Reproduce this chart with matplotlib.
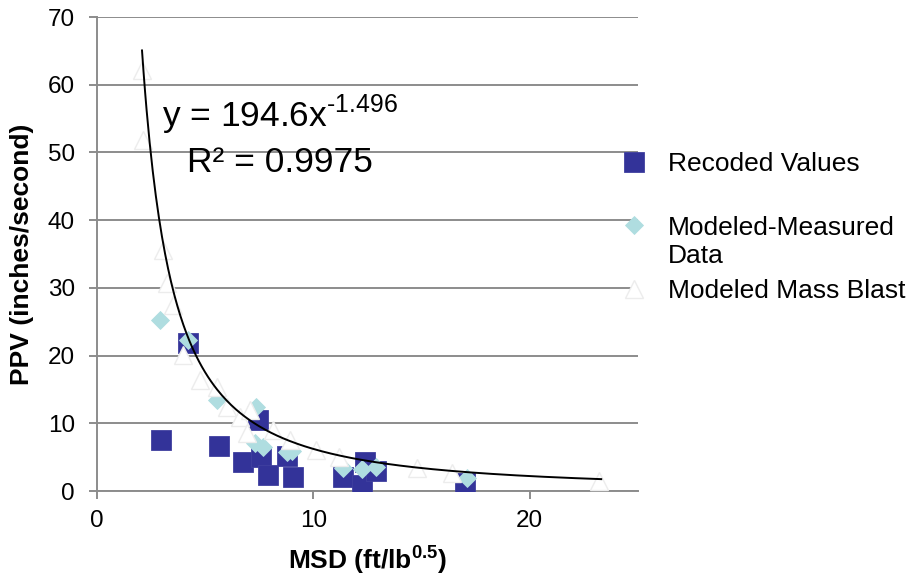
import numpy as np
import matplotlib
matplotlib.use('Agg')
import matplotlib.pyplot as plt

plt.rcParams['font.family'] = ['Liberation Sans', 'DejaVu Sans']
plt.rcParams['mathtext.fontset'] = 'custom'
plt.rcParams['mathtext.rm'] = 'Liberation Sans'

# Recoded Values (squares)
rec_x = [2.96, 4.2, 5.64, 6.74, 7.6, 7.9, 8.8, 9.05, 7.45, 11.36, 12.4, 12.24, 12.9, 17.0]
rec_y = [7.5, 21.9, 6.6, 4.3, 5.0, 2.4, 5.2, 2.1, 10.5, 2.1, 4.3, 0.9, 2.9, 1.2]

# Modeled-Measured Data (diamonds)
mm_x = [2.91, 4.2, 5.54, 7.34, 7.3, 7.67, 8.77, 9.0, 11.36, 12.24, 12.9, 17.1]
mm_y = [25.3, 22.3, 13.4, 12.4, 7.1, 6.5, 5.8, 5.9, 3.4, 3.2, 3.5, 1.9]

# Modeled Mass Blast (white triangles)
mb_x = [2.08, 2.12, 3.05, 3.23, 3.5, 3.97, 4.76, 5.54, 6.0, 6.6, 7.07, 6.93,
        8.13, 8.9, 10.1, 11.2, 14.8, 16.4, 23.2]
mb_y = [62.2, 51.8, 35.6, 30.7, 27.5, 20.1, 16.4, 15.4, 12.4, 10.9, 12.0, 8.6,
        9.0, 7.5, 6.1, 5.0, 3.4, 2.6, 1.5]

# power trend line y = a * x^b
fit_a = 194.6
fit_b = -1.496
fit_x0, fit_x1 = 2.08, 23.3

fig = plt.figure(figsize=(9.13, 5.83), dpi=100)
ax = fig.add_axes([97/913, 1-491/583, (638-97)/913, (491-17)/583])

grid_c = '#8c8c8c'
ax.set_xlim(0, 25)
ax.set_ylim(0, 70)
ax.set_yticks(np.arange(0, 71, 10))
ax.set_xticks([0, 10, 20])
ax.yaxis.grid(True, color=grid_c, lw=1.4)
ax.set_axisbelow(True)
for s in ['top', 'right']:
    ax.spines[s].set_visible(False)
for s in ['left', 'bottom']:
    ax.spines[s].set_color(grid_c)
    ax.spines[s].set_linewidth(1.4)
ax.tick_params(axis='both', colors=grid_c, labelcolor='black', labelsize=17.5,
               length=6, width=1.4)
ax.tick_params(axis='y', pad=10)
ax.tick_params(axis='x', pad=8)

ax.plot(rec_x, rec_y, 's', ms=14.4, color='#333399', mec='#40409f', mew=0.6,
        label='Recoded Values', zorder=3)
ax.plot(mm_x, mm_y, 'D', ms=9.5, color='#afdde0', mec='#afdde0', mew=0.6,
        label='Modeled-Measured', zorder=4)
ax.plot(mb_x, mb_y, '^', ms=13, mfc='white', mec='#ececec', mew=1.0,
        label='Modeled Mass Blast', zorder=5)

xs = np.linspace(fit_x0, fit_x1, 300)
ax.plot(xs, fit_a * xs ** fit_b, color='black', lw=1.4, zorder=6)

ax.text(3.0, 53.8, 'y = 194.6x$^{\\mathregular{\u20101.496}}$', fontsize=25.5,
        va='baseline', ha='left', zorder=7)
ax.text(4.16, 47.1, 'R² = 0.9975', fontsize=25.5, va='baseline', ha='left', zorder=7)

ax.set_ylabel('PPV (inches/second)', fontsize=19, fontweight='bold', labelpad=10)
ax.set_xlabel('MSD (ft/lb$^{\\mathregular{0.5}}$)', fontsize=19, fontweight='bold',
              labelpad=8)

h, l = ax.get_legend_handles_labels()
leg = fig.legend(h, l, loc='upper left', bbox_to_anchor=(622/913, 1-152/583),
                 bbox_transform=fig.transFigure, frameon=False, fontsize=19,
                 handlelength=0.9, handletextpad=0.85, labelspacing=1.5,
                 borderpad=0, borderaxespad=0)
# second line of the Modeled-Measured label
fig.text(668/913, 1-256/583, 'Data', fontsize=19, va='center', ha='left')

fig.savefig('out.png', dpi=100)
